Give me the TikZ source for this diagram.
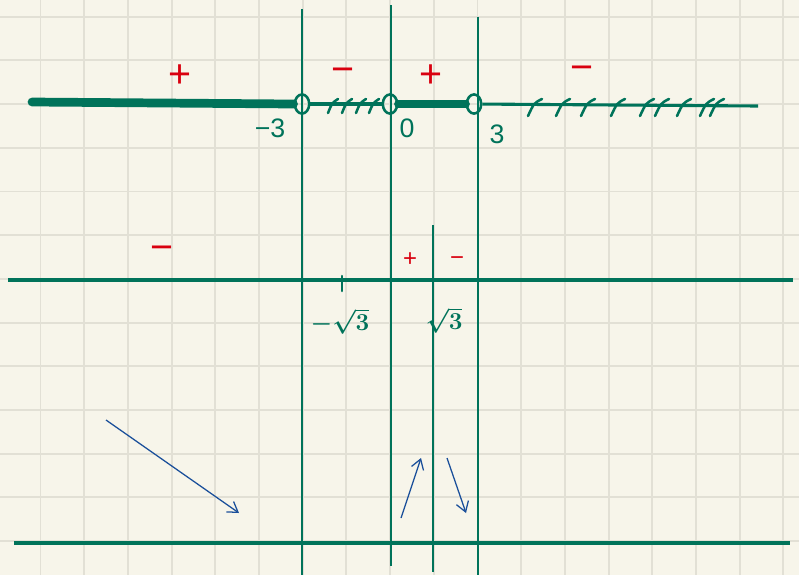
\documentclass[tikz,border=0pt]{standalone}
\usepackage{fontspec}
\setmainfont{Liberation Sans}
\usetikzlibrary{shapes.geometric,arrows.meta}
\definecolor{paper}{HTML}{F7F5EA}
\definecolor{gridc}{HTML}{E2E0D5}
\definecolor{pen}{HTML}{00735A}
\definecolor{redpen}{HTML}{D9000F}
\definecolor{bluepen}{HTML}{1A4F9A}
\begin{document}
\begin{tikzpicture}[
      x=0.025cm, y=-0.025cm,
      gridline/.style={draw=gridc, line width=1.4pt},
      rule/.style={draw=pen, line width=1.1pt},
      axis/.style={draw=pen, line width=2.2pt},
      solid part/.style={draw=pen, line width=6.2pt, line cap=round},
      hole/.style={ellipse, draw=pen, line width=1.8pt, minimum width=0.36cm, minimum height=0.48cm, inner sep=0pt},
      hatch/.style={draw=pen, line width=1.8pt, line cap=round},
      lab/.style={text=pen, font=\fontsize{19}{19}\selectfont\boldmath, inner sep=1pt},
      sign/.style={text=redpen, font=\fontsize{28}{28}\selectfont, inner sep=0pt},
      smallsign/.style={text=redpen, font=\fontsize{17}{17}\selectfont, inner sep=0pt},
      trend/.style={draw=bluepen, line width=0.9pt, -{Straight Barb[length=7pt, width=9pt]}}
    ]

    % paper
    \fill[paper] (0,0) rectangle (799,575);
    \useasboundingbox (0,0) rectangle (799,575);
    \foreach \gx in {0,...,17}
      \draw[gridline] ({40.5+43.7*\gx},0) -- ++(0,575);
    \foreach \gy in {0,...,12}
      \draw[gridline] (0,{16.7+43.7*\gy}) -- ++(799,0);

    % vertical guides
    \draw[rule] (302,9) -- (302,575);
    \draw[rule] (391,5) -- (391,566);
    \draw[rule] (478,17) -- (478,575);
    \draw[rule] (433,225) -- (433,572);

    % top number line
    \node[hole] (m3) at (302,104) {};
    \node[hole] (z)  at (390,104) {};
    \node[hole] (p3) at (474,104) {};
    \coordinate (left) at (32,102);
    \coordinate (right) at (758,106);
    \draw[solid part] (left) -- (m3.west);
    \draw[solid part] (z.east) -- (p3.west);
    \draw[axis] (m3) -- (z);
    \draw[axis] (z) -- (p3);
    \draw[axis] (p3) -- (right);

    \foreach \hx in {332,346,360,373}
      \draw[hatch] (\hx-4,113) .. controls (\hx,103) .. (\hx+6,99);
    \foreach \hx in {535,563,588,618,647,662,684,707,717}
      \draw[hatch] (\hx-7,116) .. controls (\hx-1,103) .. (\hx+7,99);

    \node[lab] (lm3) at (270,128) {−3};
    \node[lab] (lz)  at (407,128) {0};
    \node[lab] (lp3) at (497,134) {3};

    \node[sign] (s1) at (180,76) {+};
    \node[sign] (s2) at (343,75) {−};
    \node[sign] (s3) at (431,76) {+};
    \node[sign] (s4) at (582,73) {−};

    % derivative line
    \coordinate (dl) at (8,280);
    \coordinate (dr) at (793,280);
    \draw[axis] (dl) -- (dr);
    \draw[hatch] (342,276) -- (342,291);
    \draw[hatch] (433,273) -- (433,292);
    \node[lab] (lrm) at (340,321) {$-\sqrt{3}$};
    \node[lab] (lrp) at (444,320) {$\sqrt{3}$};
    \node[sign] (d1) at (162,253) {−};
    \node[smallsign] (d2) at (410,260) {+};
    \node[smallsign] (d3) at (457,261) {−};

    % bottom line and arrows
    \coordinate (bl) at (14,543);
    \coordinate (br) at (790,543);
    \draw[axis] (bl) -- (br);
    \coordinate (a1) at (106,420);
    \coordinate (a2) at (239,513);
    \coordinate (b1) at (401,518);
    \coordinate (b2) at (421,458);
    \coordinate (c1) at (447,458);
    \coordinate (c2) at (466,513);
    \draw[trend] (a1) -- (a2);
    \draw[trend] (b1) -- (b2);
    \draw[trend] (c1) -- (c2);

  \end{tikzpicture}
\end{document}
